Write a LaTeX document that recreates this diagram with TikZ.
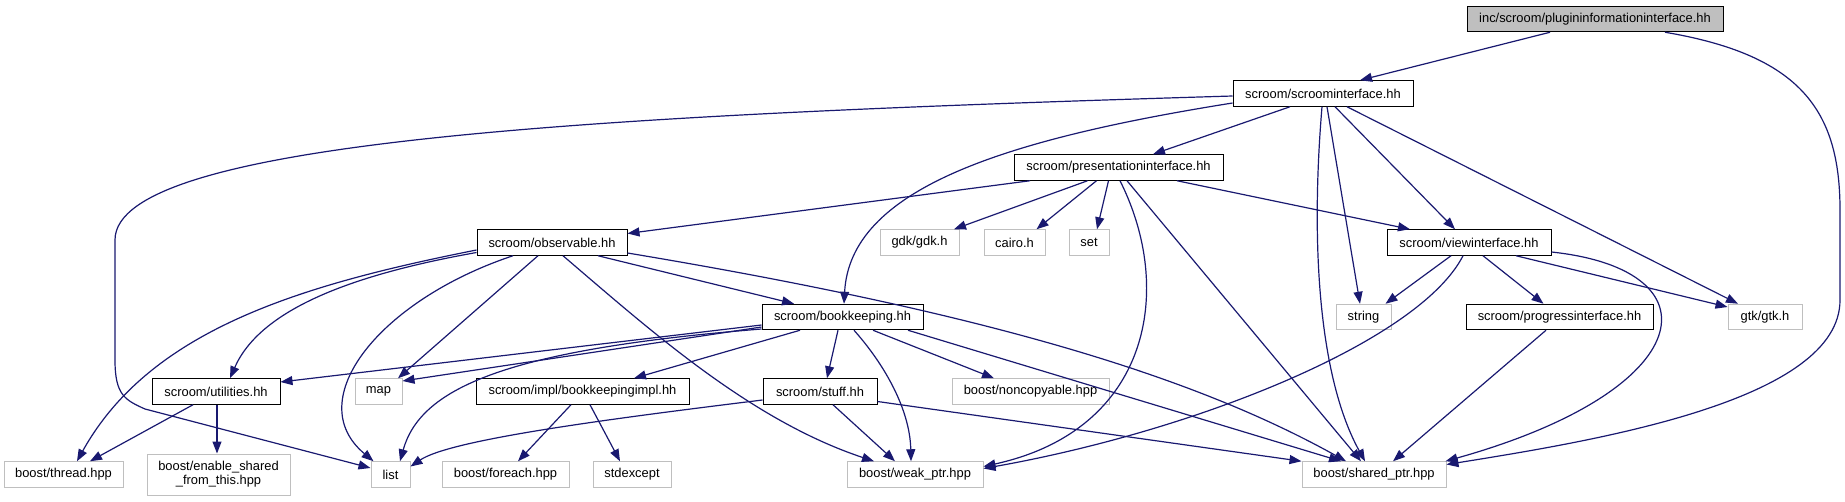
\documentclass[tikz,border=0pt]{standalone}
\usepackage{fontspec}
\setmainfont{Liberation Sans}
\usepackage{tikz}
\usetikzlibrary{arrows.meta}
\definecolor{enlaceazul}{RGB}{25,25,112}
\definecolor{grisborde}{RGB}{191,191,191}
\definecolor{grisfondo}{RGB}{191,191,191}

\begin{document}
\begin{tikzpicture}[x=1pt, y=-1pt, >={Triangle[length=12pt,width=9pt]},
    every node/.style={font=\fontsize{12.9}{14}\selectfont, inner sep=0pt, minimum height=25.5pt},
    doc/.style={draw=black, line width=1pt},
    ext/.style={draw=grisborde, line width=1pt},
    dep/.style={->, draw=enlaceazul, line width=1.2pt}]
    \useasboundingbox (0,0) rectangle (1845,501);
    \node[doc, fill=grisfondo, minimum width=256pt] (pii) at (1595,19) {inc/scroom/plugininformationinterface.hh};
    \node[doc, minimum width=180pt] (si) at (1323,93.5) {scroom/scroominterface.hh};
    \node[doc, minimum width=209pt] (pi) at (1118.5,167.5) {scroom/presentationinterface.hh};
    \node[doc, minimum width=150pt] (obs) at (552,242.5) {scroom/observable.hh};
    \node[ext, minimum width=79pt] (gdkh) at (919.5,242.5) {gdk/gdk.h};
    \node[ext, minimum width=61pt] (cairoh) at (1014.5,242.5) {cairo.h};
    \node[ext, minimum width=40pt] (seth) at (1089,242.5) {set};
    \node[doc, minimum width=164pt] (vi) at (1469,242.5) {scroom/viewinterface.hh};
    \node[doc, minimum width=161pt] (bk) at (842.5,317) {scroom/bookkeeping.hh};
    \node[ext, minimum width=55pt] (strh) at (1363.5,317) {string};
    \node[doc, minimum width=187pt] (pr) at (1559.5,317) {scroom/progressinterface.hh};
    \node[ext, minimum width=74pt] (gtkh) at (1765,317) {gtk/gtk.h};
    \node[doc, minimum width=128pt] (util) at (216,391.5) {scroom/utilities.hh};
    \node[ext, minimum width=47pt] (maph) at (378.5,391.5) {map};
    \node[doc, minimum width=213pt] (bi) at (582.5,391.5) {scroom/impl/bookkeepingimpl.hh};
    \node[doc, minimum width=114pt] (st) at (820,391.5) {scroom/stuff.hh};
    \node[ext, minimum width=157pt] (nc) at (1030.5,391.5) {boost/noncopyable.hpp};
    \node[ext, minimum width=119pt] (thr) at (63.5,474.5) {boost/thread.hpp};
    \node[ext, minimum width=143pt, minimum height=41pt, align=center] (es) at (218.5,474.5) {boost/enable\_shared\\\_from\_this.hpp};
    \node[ext, minimum width=39pt] (listh) at (390.5,474.5) {list};
    \node[ext, minimum width=127pt] (fe) at (505.5,474.5) {boost/foreach.hpp};
    \node[ext, minimum width=78pt] (se) at (632,474.5) {stdexcept};
    \node[ext, minimum width=136pt] (wp) at (915,474.5) {boost/weak\_ptr.hpp};
    \node[ext, minimum width=144pt] (sp) at (1374,474.5) {boost/shared\_ptr.hpp};
    \draw[dep] ([xshift=-45]pii.south) -- ([xshift=37]si.north);
    \draw[dep] ([xshift=70]pii.south) .. controls (1800,55) and (1840,110) .. (1840,210) -- (1840,300) .. controls (1840,400) and (1600,440) .. ([yshift=10]sp.east);
    \draw[dep] ([yshift=-2.5]si.west) .. controls (600,115) and (115,140) .. (115,240) -- (115,360) .. controls (115,395) and (125,400) .. (145,409) -- ([yshift=6.5]listh.west);
    \draw[dep] ([yshift=-9.5]si.west) .. controls (1000,140) and (850,190) .. ([xshift=1.5]bk.north);
    \draw[dep] ([xshift=-33]si.south) -- ([xshift=34.5]pi.north);
    \draw[dep] ([xshift=4]si.south) -- ([xshift=-3.5]strh.north);
    \draw[dep] ([xshift=-1]si.south) .. controls (1310,250) and (1320,380) .. ([xshift=-9]sp.north);
    \draw[dep] ([xshift=12]si.south) -- ([xshift=-14]vi.north);
    \draw[dep] ([xshift=24]si.south) -- ([xshift=-27]gtkh.north);
    \draw[dep] ([xshift=-88.5]pi.south) -- ([yshift=9]obs.east);
    \draw[dep] ([xshift=-31]pi.south) -- ([xshift=34.5]gdkh.north);
    \draw[dep] ([xshift=-22]pi.south) -- ([xshift=22]cairoh.north);
    \draw[dep] ([xshift=-10]pi.south) -- ([xshift=8]seth.north);
    \draw[dep] ([xshift=1.5]pi.south) .. controls (1175,290) and (1150,430) .. ([yshift=8]wp.east);
    \draw[dep] ([xshift=8.5]pi.south) -- ([xshift=-13]sp.north);
    \draw[dep] ([xshift=58.5]pi.south) -- ([xshift=-59]vi.north);
    \draw[dep] ([xshift=46]obs.south) -- ([xshift=-48.5]bk.north);
    \draw[dep] ([yshift=-10.5]obs.east) .. controls (1000,315) and (1200,380) .. ([xshift=-28]sp.north);
    \draw[dep] ([yshift=-7.5]obs.west) .. controls (300,285) and (150,330) .. ([xshift=13.5]thr.north);
    \draw[dep] ([yshift=-10]obs.west) .. controls (350,275) and (260,310) .. ([xshift=14]util.north);
    \draw[dep] ([xshift=-39]obs.south) .. controls (380,300) and (300,400) .. ([xshift=-17]listh.north);
    \draw[dep] ([xshift=-14]obs.south) -- ([xshift=19.5]maph.north);
    \draw[dep] ([xshift=11]obs.south) .. controls (650,330) and (750,420) .. ([xshift=-41]wp.north);
    \draw[dep] ([yshift=-8]bk.west) -- ([yshift=9.5]util.east);
    \draw[dep] ([yshift=-10]bk.west) -- ([yshift=10.5]maph.east);
    \draw[dep] ([yshift=-12]bk.west) .. controls (500,350) and (420,390) .. ([xshift=9.5]listh.north);
    \draw[dep] ([xshift=-42.5]bk.south) -- ([xshift=51.5]bi.north);
    \draw[dep] ([xshift=-4.5]bk.south) -- ([xshift=7]st.north);
    \draw[dep] ([xshift=11.5]bk.south) .. controls (885,365) and (910,410) .. ([xshift=-4]wp.north);
    \draw[dep] ([xshift=30.5]bk.south) -- ([xshift=-36.5]nc.north);
    \draw[dep] ([xshift=65.5]bk.south) -- ([xshift=-33]sp.north);
    \draw[dep] ([xshift=-11.5]bi.south) -- ([xshift=12.5]fe.north);
    \draw[dep] ([xshift=7.5]bi.south) -- ([xshift=-12]se.north);
    \draw[dep] ([yshift=-8.5]st.west) .. controls (600,420) and (450,440) .. ([yshift=8]listh.east);
    \draw[dep] ([xshift=13]st.south) -- ([xshift=-20]wp.north);
    \draw[dep] ([yshift=-10]st.east) -- (sp.north west);
    \draw[dep] ([xshift=-23]util.south) -- ([xshift=26.5]thr.north);
    \draw[dep] ([xshift=1]util.south) -- ([xshift=-1.5]es.north);
    \draw[dep] ([xshift=-18]vi.south) -- ([xshift=22]strh.north);
    \draw[dep] ([xshift=-6]vi.south) .. controls (1420,340) and (1200,430) .. ([yshift=6]wp.east);
    \draw[dep] ([xshift=14]vi.south) -- ([xshift=-16]pr.north);
    \draw[dep] ([xshift=47]vi.south) -- ([yshift=10]gtkh.west);
    \draw[dep] ([yshift=-9.5]vi.east) .. controls (1720,270) and (1700,390) .. ([xshift=-1]sp.north east);
    \draw[dep] ([xshift=-13.5]pr.south) -- ([xshift=19]sp.north);
\end{tikzpicture}
\end{document}
